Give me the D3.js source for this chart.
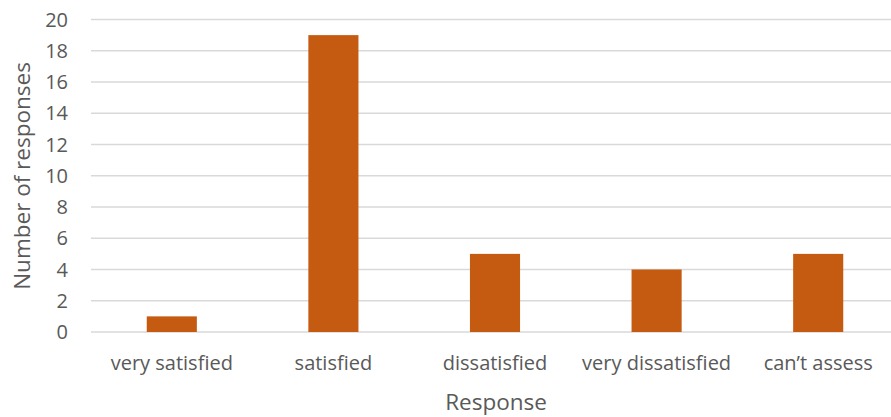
<!DOCTYPE html>
<html><head><meta charset="utf-8">
<script src="https://cdn.jsdelivr.net/npm/d3@7"></script>
<style>body{margin:0;background:#fff}svg{display:block}</style>
</head><body>
<svg id="c" width="891" height="417"></svg>
<script>
const categories = ["very satisfied","satisfied","dissatisfied","very dissatisfied","can\u2019t assess"];
const values = [1,19,5,4,5];
const yTicks = [0,2,4,6,8,10,12,14,16,18,20];

const svg = d3.select("#c");
const font = "'Open Sans', sans-serif";
const x = d3.scaleBand().domain(categories).range([91,899]).paddingInner(0.69).paddingOuter(0.345);
const y = d3.scaleLinear().domain([0,20]).range([332,19.5]);

svg.append("g").selectAll("line").data(yTicks).join("line")
  .attr("x1",91).attr("x2",891).attr("y1",d=>y(d)).attr("y2",d=>y(d))
  .attr("stroke","#d9d9d9").attr("stroke-width",1.5);

svg.append("g").selectAll("rect").data(values).join("rect")
  .attr("x",(d,i)=>x(categories[i])).attr("width",x.bandwidth())
  .attr("y",d=>y(d)).attr("height",d=>y(0)-y(d)).attr("fill","#C55A11");

svg.append("g").selectAll("text").data(yTicks).join("text")
  .attr("x",68).attr("y",d=>y(d)).attr("dy","0.35em").attr("text-anchor","end")
  .attr("font-family",font).attr("font-size",20).attr("fill","#595959").text(d=>d);

svg.append("g").selectAll("text").data(categories).join("text")
  .attr("x",d=>x(d)+x.bandwidth()/2).attr("y",363).attr("dy","0.35em").attr("text-anchor","middle")
  .attr("font-family",font).attr("font-size",20).attr("fill","#595959").text(d=>d);

svg.append("text").attr("x",496).attr("y",402).attr("dy","0.35em").attr("text-anchor","middle")
  .attr("font-family",font).attr("font-size",22.5).attr("fill","#595959").text("Response");

svg.append("text").attr("transform","translate(22,176) rotate(-90)").attr("dy","0.35em").attr("text-anchor","middle")
  .attr("font-family",font).attr("font-size",22.5).attr("fill","#595959").text("Number of responses");
</script>
</body></html>
